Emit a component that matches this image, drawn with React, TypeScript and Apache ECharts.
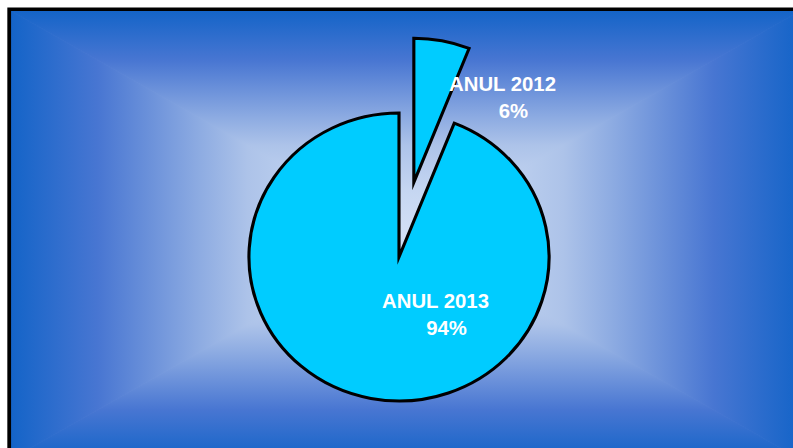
import React, { useEffect, useRef } from "react";
import * as echarts from "echarts";

// ---- data ----
const categories = ["ANUL 2012", "ANUL 2013"];
const values = [6, 94];
const explodedIndex = 0;

// horizontal stretch of the original slide picture
const SX = 1.042;
const FONT = "'Liberation Sans', Arial, Helvetica, sans-serif";

const gradStops = [
  { offset: 0, color: "#1464C8" },
  { offset: 0.22, color: "#4876D2" },
  { offset: 0.48, color: "#8EACE2" },
  { offset: 0.6, color: "#ADC3E9" },
  { offset: 0.8, color: "#C5D6F1" },
  { offset: 1, color: "#D3E0F5" },
];

function lin(x: number, y: number, x2: number, y2: number) {
  return { type: "linear", x, y, x2, y2, global: true, colorStops: gradStops };
}

export default function App() {
  const ref = useRef<HTMLDivElement | null>(null);

  useEffect(() => {
    if (!ref.current) return;
    const chart = echarts.init(ref.current, null, { renderer: "svg" });

    const L = 11 / SX;
    const T = 11;
    const R = 800 / SX;
    const B = 459;
    const cx = (L + R) / 2;
    const cy = 235;

    const poly = (pts: number[][], g: any) => ({
      type: "polygon",
      silent: true,
      shape: { points: pts },
      style: { fill: g, stroke: g, lineWidth: 0.8 },
    });

    const labelPos = [
      { x: 502.5 / SX, y: 98 },
      { x: 435.5 / SX, y: 315 },
    ];

    const textBase = {
      fontSize: 19.5,
      fontWeight: "bold",
      color: "#ffffff",
      fontFamily: FONT,
      lineHeight: 27,
    };

    const pieCenter = [399 / SX, 257];
    const radius = 144;
    const explodeDist = 76;
    const total = values.reduce((a, b) => a + b, 0);
    let before = 0;
    for (let i = 0; i < explodedIndex; i++) before += values[i];
    const midAngle = ((before + values[explodedIndex] / 2) / total) * 2 * Math.PI;
    const explodedCenter = [
      pieCenter[0] + explodeDist * Math.sin(midAngle),
      pieCenter[1] - explodeDist * Math.cos(midAngle),
    ];

    const sliceStyle = {
      color: "#00CCFF",
      borderColor: "#000000",
      borderWidth: 3,
      borderJoin: "miter",
      borderMiterLimit: 30,
    };
    const hiddenStyle = { color: "rgba(0,0,0,0)", borderWidth: 0, borderColor: "rgba(0,0,0,0)" };

    const makeSeries = (showExploded: boolean) => ({
      type: "pie",
      center: showExploded ? explodedCenter : pieCenter,
      radius,
      startAngle: 90,
      clockwise: true,
      avoidLabelOverlap: false,
      percentPrecision: 0,
      silent: true,
      emphasis: { disabled: true },
      itemStyle: sliceStyle,
      labelLine: { show: false },
      label: {
        show: true,
        position: "inside",
        formatter: "{n|{b}}\n{p|{d}%}",
        align: "center",
        verticalAlign: "middle",
        rich: {
          n: { ...textBase },
          p: { ...textBase, padding: [0, 0, 0, 21] },
        },
      },
      labelLayout: (params: any) => {
        const p = labelPos[params.dataIndex];
        return { x: p.x, y: p.y, align: "center", verticalAlign: "middle" };
      },
      data: categories.map((name, i) => {
        const visible = (i === explodedIndex) === showExploded;
        return visible
          ? { name, value: values[i] }
          : { name, value: values[i], itemStyle: hiddenStyle, label: { show: false } };
      }),
    });

    const option: any = {
      animation: false,
      backgroundColor: "#ffffff",
      graphic: [
        {
          type: "rect",
          silent: true,
          shape: { x: L, y: T, width: R - L, height: B - T },
          style: { fill: "#9FB8E5" },
        },
        poly([[L, T], [R, T], [cx, cy]], lin(0, T, 0, cy)),
        poly([[L, B], [R, B], [cx, cy]], lin(0, B, 0, cy)),
        poly([[L, T], [L, B], [cx, cy]], lin(L, 0, cx, 0)),
        poly([[R, T], [R, B], [cx, cy]], lin(R, 0, cx, 0)),
        {
          type: "rect",
          silent: true,
          shape: { x: 9.2 / SX, y: 9.2, width: 900, height: 600 },
          style: { fill: "none", stroke: "#000000", lineWidth: 3.6 },
        },
      ],
      series: [makeSeries(false), makeSeries(true)],
    };

    chart.setOption(option);
    return () => chart.dispose();
  }, []);

  return (
    <div
      style={{
        position: "fixed",
        left: 0,
        top: 0,
        width: 793,
        height: 448,
        overflow: "hidden",
        background: "#ffffff",
      }}
    >
      <div
        ref={ref}
        style={{
          width: 793 / SX,
          height: 448,
          transform: `scaleX(${SX})`,
          transformOrigin: "0 0",
        }}
      />
    </div>
  );
}
